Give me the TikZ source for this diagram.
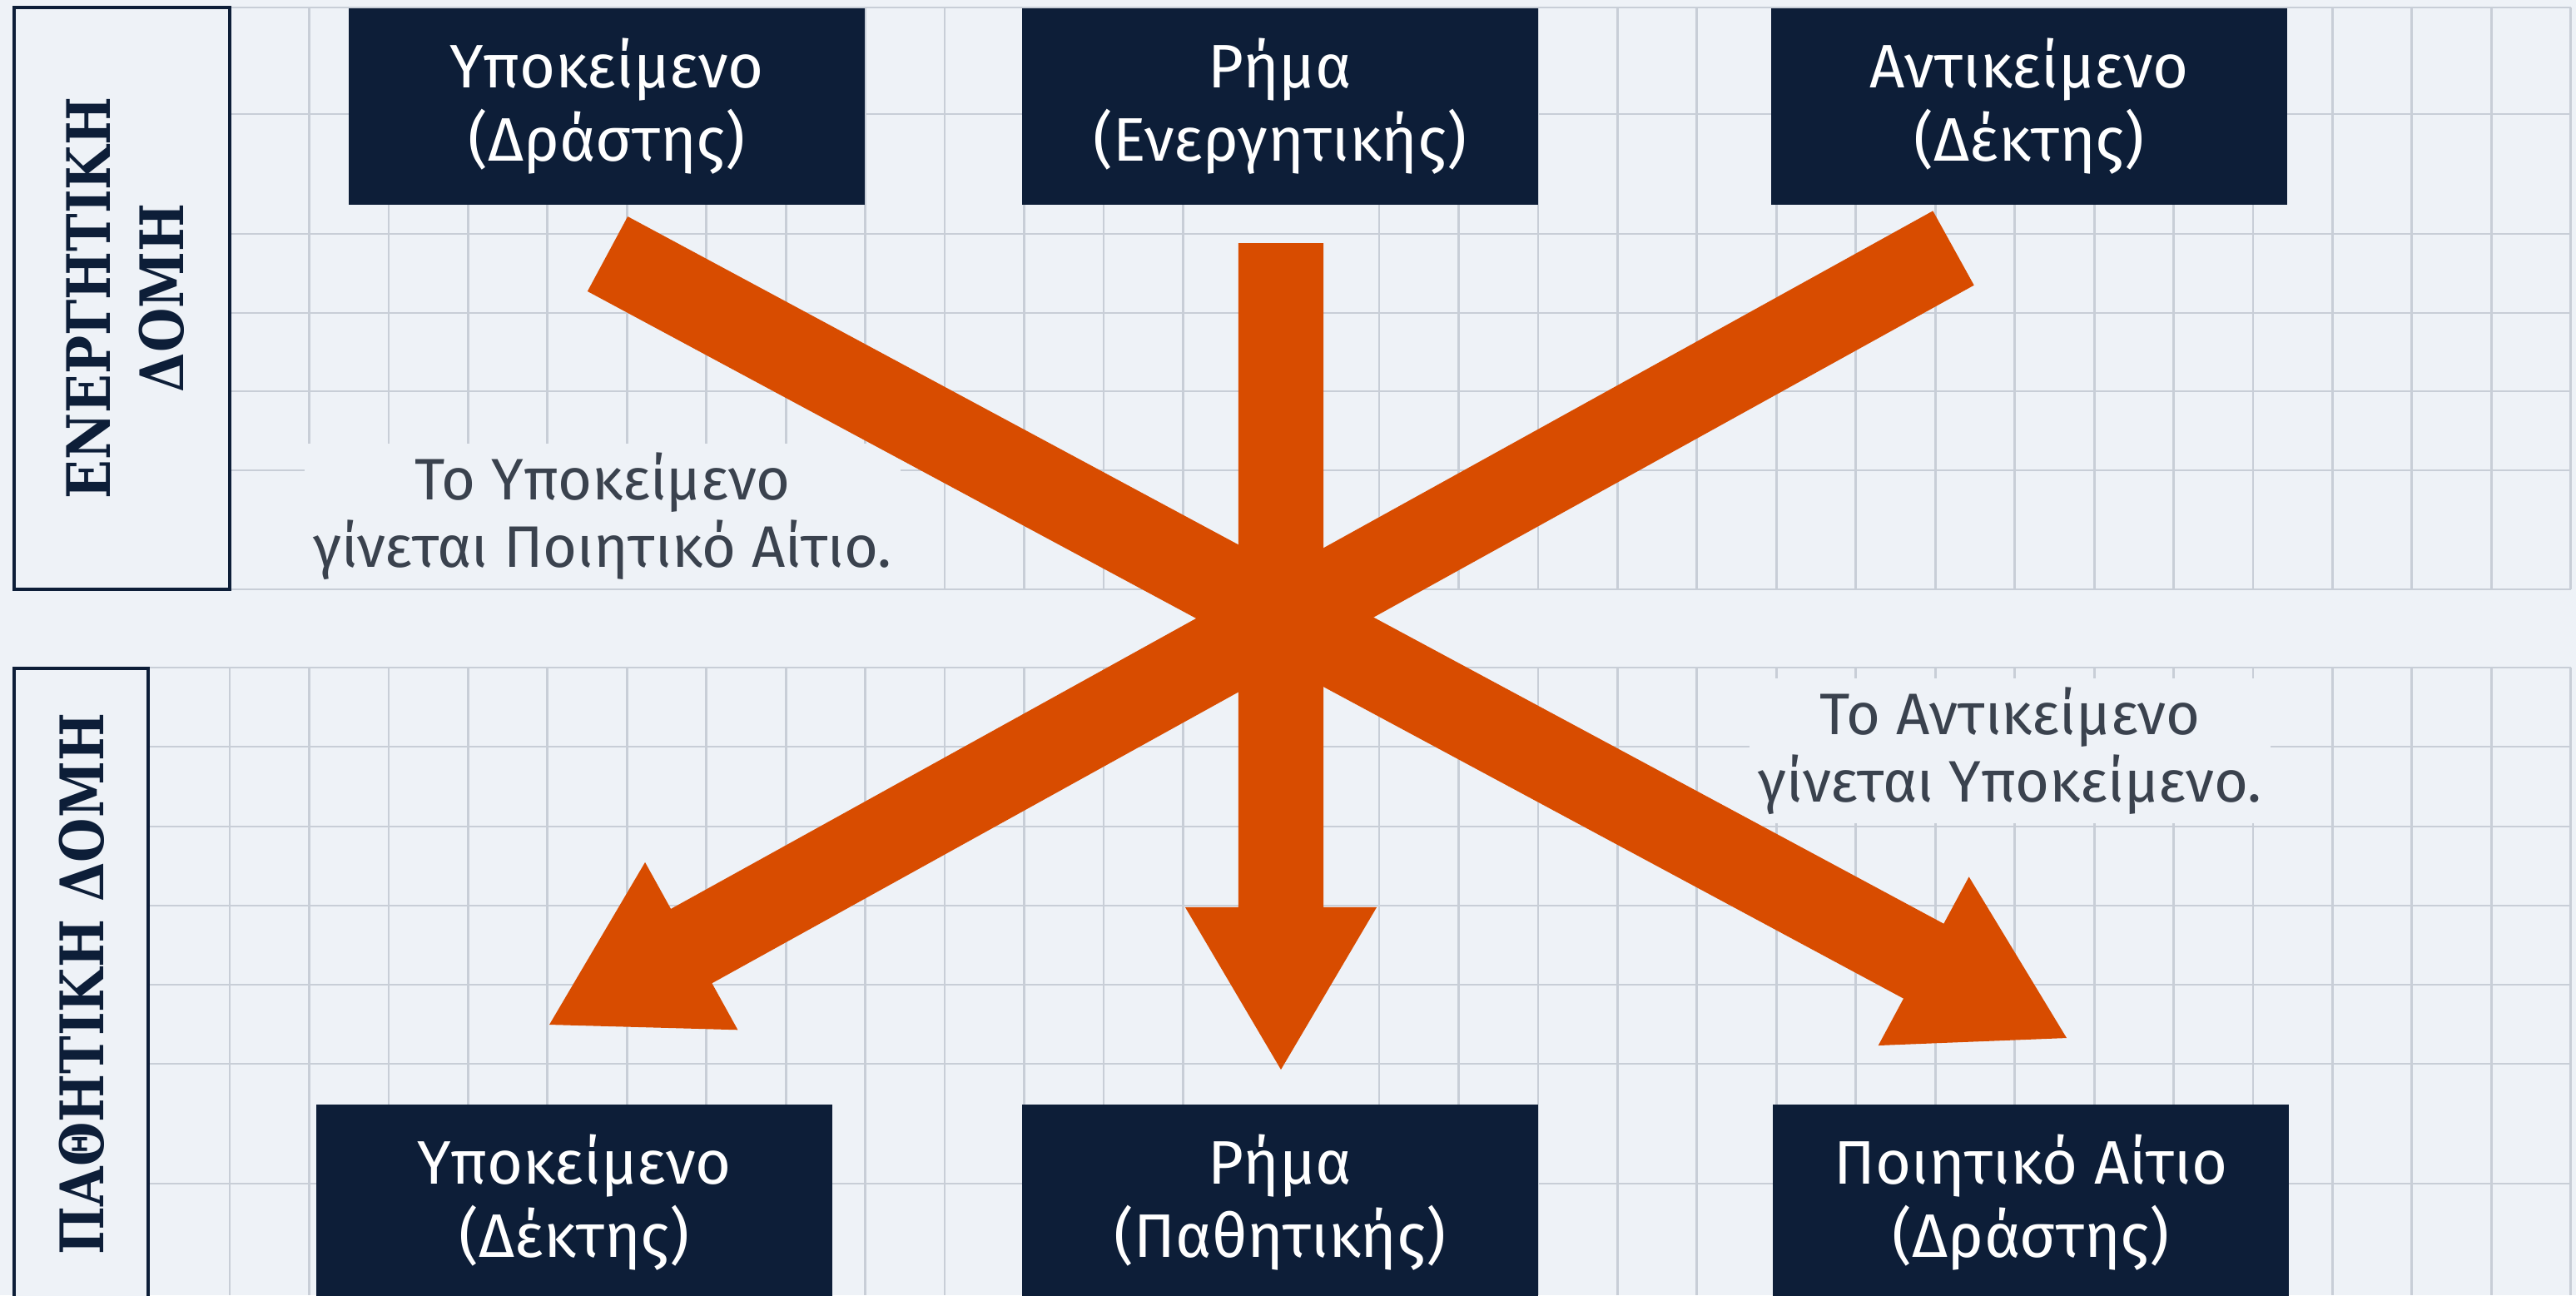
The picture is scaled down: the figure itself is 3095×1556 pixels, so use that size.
\documentclass[tikz,border=0pt]{standalone}
\usepackage{fontspec}
\setmainfont{Fira Sans}
\newfontfamily\labelfont{DejaVu Serif Bold}[FakeStretch=0.85]
\usetikzlibrary{calc}

\definecolor{paper}{RGB}{238,242,247}
\definecolor{gridgray}{RGB}{200,206,215}
\definecolor{navy}{RGB}{13,30,56}
\definecolor{notegray}{RGB}{58,66,78}
\definecolor{arroworange}{RGB}{216,76,0}

\begin{document}
\begin{tikzpicture}[x=0.01cm, y=-0.01cm,
    gridline/.style={draw=gridgray, line width=0.8pt},
    sidebox/.style={draw=navy, line width=1pt, fill=paper},
    termbox/.style={fill=navy, text=white, minimum width=6.19cm, minimum height=2.36cm,
        inner sep=0pt, align=center, font=\fontsize{21}{25}\selectfont},
    sidelabel/.style={rotate=90, align=center, text=navy,
        font=\labelfont\fontsize{20.5}{25}\selectfont},
    note/.style={align=center, text=notegray, fill=paper, inner sep=3pt,
        font=\fontsize{20}{23}\selectfont},
    bigarrow/.style={fill=arroworange}]
    \useasboundingbox (0,0) rectangle (3095,1556);
    \fill[paper] (0,0) rectangle (3095,1556);

    % grid, top half
    \foreach \k in {1,...,12}
        \draw[gridline] ({276+95.45*\k},9) -- ({276+95.45*\k},708);
    \foreach \k in {0,...,15}
        \draw[gridline] ({1657+95.45*\k},9) -- ({1657+95.45*\k},708);
    \foreach \y in {9,137,281,376,470,565,708}
        \draw[gridline] (276,\y) -- (3089,\y);

    % grid, bottom half
    \foreach \k in {0,...,12}
        \draw[gridline] ({276+95.45*\k},802) -- ({276+95.45*\k},1556);
    \foreach \k in {0,...,15}
        \draw[gridline] ({1657+95.45*\k},802) -- ({1657+95.45*\k},1556);
    \foreach \y in {802,897,993,1088,1183,1278,1422}
        \draw[gridline] (178,\y) -- (3089,\y);

    % side labels
    \draw[sidebox] (17,9) rectangle (276,708);
    \draw[sidebox] (17,803) rectangle (178,1580);
    \node[sidelabel] (actlabel) at (151,358) {ΕΝΕΡΓΗΤΙΚΗ\\ΔΟΜΗ};
    \node[sidelabel] (passlabel) at (98,1182) {ΠΑΘΗΤΙΚΗ ΔΟΜΗ};

    % active voice
    \node[termbox] (actsubj) at (729,128) {Υποκείμενο\\(Δράστης)};
    \node[termbox] (actverb) at (1538,128) {Ρήμα\\(Ενεργητικής)};
    \node[termbox] (actobj) at (2438,128) {Αντικείμενο\\(Δέκτης)};

    % passive voice
    \node[termbox] (passsubj) at (690,1445) {Υποκείμενο\\(Δέκτης)};
    \node[termbox] (passverb) at (1538,1445) {Ρήμα\\(Παθητικής)};
    \node[termbox] (passagent) at (2440,1445) {Ποιητικό Αίτιο\\(Δράστης)};

    \node[note] (leftnote) at (724,620) {Το Υποκείμενο\\γίνεται Ποιητικό Αίτιο.};
    \node[note] (rightnote) at (2415,902) {Το Αντικείμενο\\γίνεται Υποκείμενο.};

    % arrow ends
    \coordinate (tailL) at (730,305);
    \coordinate (tipL) at (2483,1247);
    \coordinate (tailV) at (1539,292);
    \coordinate (tipV) at (1539,1285);
    \coordinate (tailR) at (2347,298);
    \coordinate (tipR) at (660,1231);

    \foreach \s/\t in {tailL/tipL, tailV/tipV, tailR/tipR} {
        \coordinate (base) at ($(\t)!1.95cm!(\s)$);
        \fill[bigarrow] ($(\s)!0.51cm!90:(\t)$) -- ($(base)!0.51cm!90:(\t)$)
            -- ($(base)!1.15cm!90:(\t)$) -- (\t) -- ($(base)!1.15cm!-90:(\t)$)
            -- ($(base)!0.51cm!-90:(\t)$) -- ($(\s)!0.51cm!-90:(\t)$) -- cycle;
    }
\end{tikzpicture}
\end{document}
